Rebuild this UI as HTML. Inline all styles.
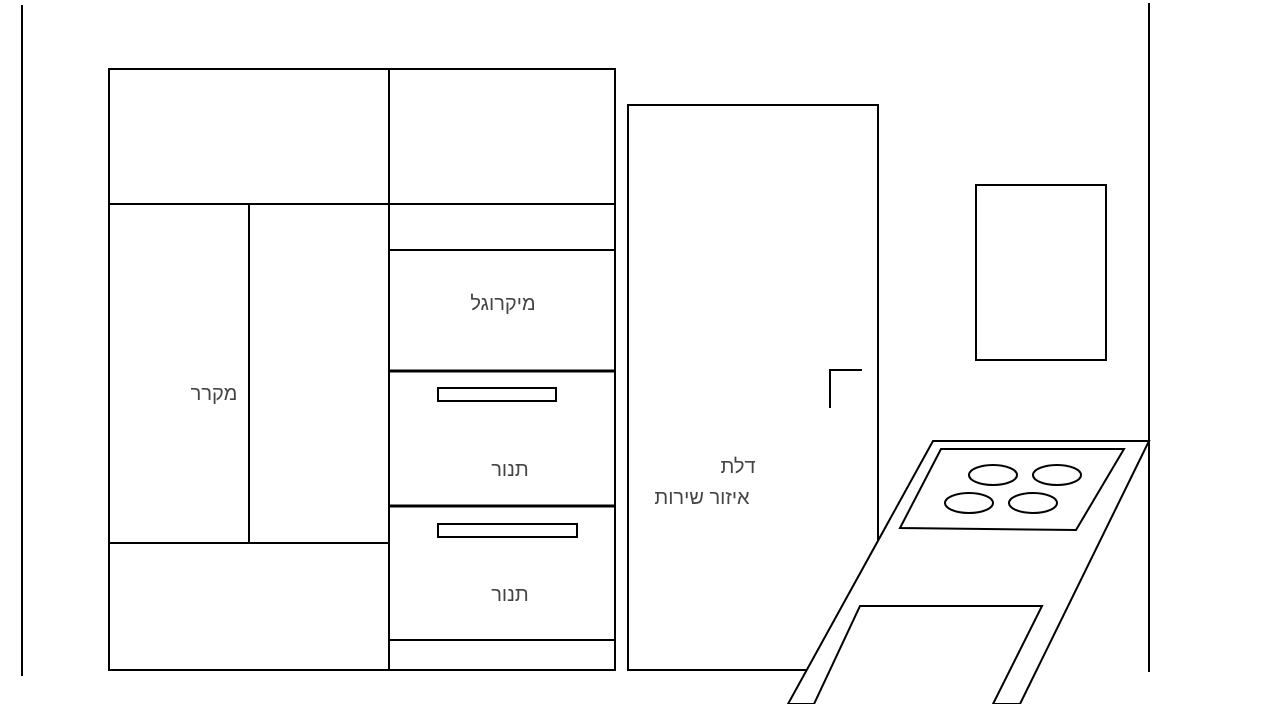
<!DOCTYPE html>
<html><head><meta charset="utf-8"><style>body{margin:0;background:#fff}svg{display:block}</style></head><body>
<svg width="1268" height="704" xmlns="http://www.w3.org/2000/svg">
<rect width="1268" height="704" fill="#fff"/>
<g stroke="#000" stroke-width="2" fill="none">
<line x1="22" y1="5" x2="22" y2="676"/>
<line x1="1149" y1="3" x2="1149" y2="672"/>
<rect x="109" y="69" width="506" height="601"/>
<line x1="389" y1="69" x2="389" y2="670"/>
<line x1="109" y1="204" x2="615" y2="204"/>
<line x1="249" y1="204" x2="249" y2="543"/>
<line x1="109" y1="543" x2="389" y2="543"/>
<line x1="389" y1="250" x2="615" y2="250"/>
<line x1="389" y1="371" x2="615" y2="371" stroke-width="3"/>
<line x1="389" y1="506" x2="615" y2="506" stroke-width="3"/>
<line x1="389" y1="640" x2="615" y2="640"/>
<rect x="438" y="388" width="118" height="13"/>
<rect x="438" y="524" width="139" height="13"/>
<polyline points="878,540 878,105 628,105 628,670 806,670"/>
<polyline points="862,370 830,370 830,408"/>
<rect x="976" y="185" width="130" height="175"/>
<polygon points="933,441 1149,441 1020,704 993,704 1042,606 860,606 814,704 788,704" fill="#fff"/>
<polygon points="941,449 1124,449 1076,530 900,528"/>
<ellipse cx="993" cy="475" rx="24" ry="10"/>
<ellipse cx="1057" cy="475" rx="24" ry="10"/>
<ellipse cx="969" cy="503" rx="24" ry="10"/>
<ellipse cx="1033" cy="503" rx="24" ry="10"/>
</g>
<g font-family="'Liberation Sans','DejaVu Sans',sans-serif" font-size="20" fill="#444" text-anchor="middle" font-weight="300">
<text x="503" y="310">מיקרוגל</text>
<text x="214" y="400">מקרר</text>
<text x="510" y="476">תנור</text>
<text x="510" y="601">תנור</text>
<text x="738" y="473">דלת</text>
<text x="702" y="504">איזור שירות</text>
</g>
</svg>
</body></html>
